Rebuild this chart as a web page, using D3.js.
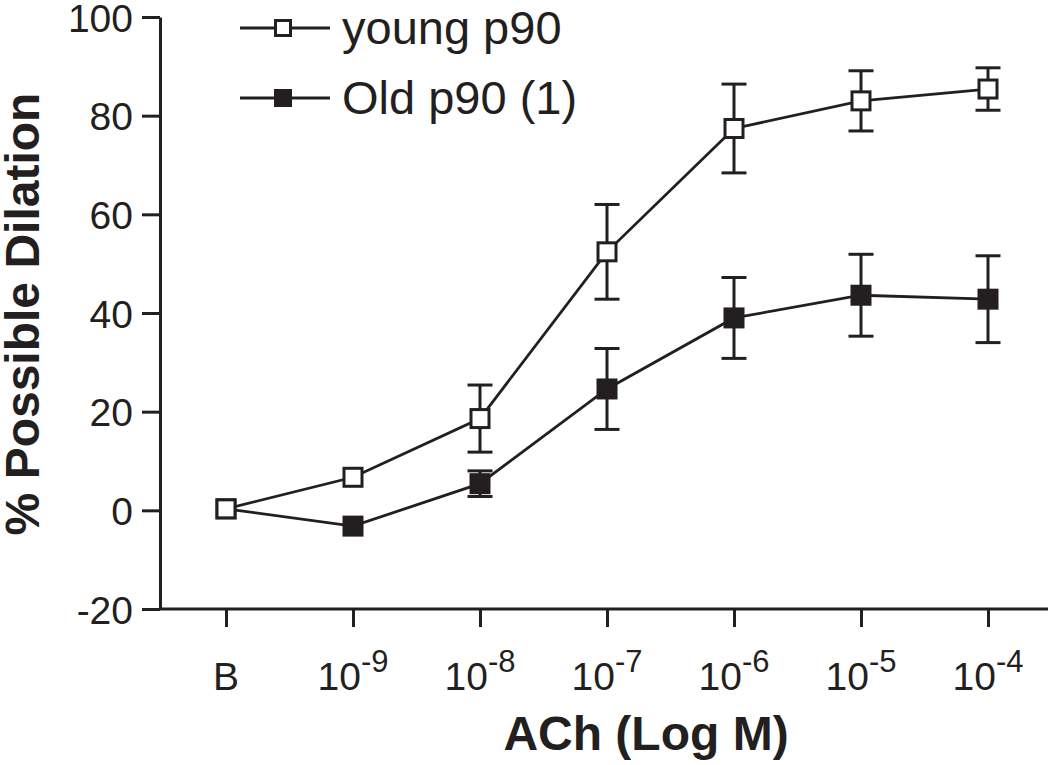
<!DOCTYPE html>
<html>
<head>
<meta charset="utf-8">
<script src="https://cdn.jsdelivr.net/npm/d3@7"></script>
<style>
  body { margin: 0; background: #fff; }
  svg text { font-family: "Liberation Sans", Arial, sans-serif; fill: #231f20; }
</style>
</head>
<body>
<div id="chart"></div>
<script>
// Concentrations (B = baseline, then exponent of 10)
const doses = ["B", "-9", "-8", "-7", "-6", "-5", "-4"];
// young p90: mean and SEM
const youngMean = [0.3, 6.7, 18.6, 52.4, 77.4, 83.0, 85.4];
const youngErr  = [0, 0, 6.8, 9.6, 9.0, 6.1, 4.3];
// Old p90 (1): mean and SEM
const oldMean = [0.3, -3.2, 5.4, 24.6, 39.0, 43.6, 42.8];
const oldErr  = [0, 0, 2.6, 8.2, 8.2, 8.3, 8.8];
const yTicks = [-20, 0, 20, 40, 60, 80, 100];

const ink = "#231f20";
const width = 1050, height = 765;

const svg = d3.select("#chart").append("svg")
    .attr("width", width)
    .attr("height", height);

const x = d3.scalePoint().domain(doses).range([226, 988]);
const y = d3.scaleLinear().domain([-20, 100]).range([609, 17]);

// --------------------------------------
// Y axis
const yAxis = svg.append("g")
    .attr("transform", "translate(160,0)")
    .call(d3.axisLeft(y).tickValues(yTicks).tickFormat(d => String(d))
        .tickSize(18).tickSizeOuter(0).tickPadding(9));
yAxis.select(".domain").attr("stroke", ink).attr("stroke-width", 3);
yAxis.selectAll(".tick line").attr("stroke", ink).attr("stroke-width", 3);
yAxis.selectAll(".tick text")
    .style("font-size", "39px")
    .attr("dy", "0.36em")
    .attr("fill", ink);

// X axis
const xAxis = svg.append("g")
    .attr("transform", "translate(0,609)")
    .call(d3.axisBottom(x).tickSize(18).tickSizeOuter(0).tickFormat(""));
xAxis.select(".domain").remove();
xAxis.append("line")
    .attr("x1", 160).attr("x2", 1048)
    .attr("stroke", ink).attr("stroke-width", 3);
xAxis.selectAll(".tick line").attr("stroke", ink).attr("stroke-width", 3);

// tick labels with superscript exponents
const xLabels = svg.append("g");
doses.forEach(d => {
    const t = xLabels.append("text")
        .attr("x", x(d))
        .attr("y", 690)
        .attr("text-anchor", "middle")
        .style("font-size", "39px");
    if (d === "B") {
        t.text("B");
    } else {
        t.append("tspan").text("10");
        t.append("tspan").attr("dy", -18).style("font-size", "31px").text(d);
    }
});

// axis titles
svg.append("text")
    .attr("x", 646).attr("y", 750)
    .attr("text-anchor", "middle")
    .style("font-size", "48px").style("font-weight", "bold")
    .text("ACh (Log M)");

svg.append("text")
    .attr("transform", "translate(39,314) rotate(-90)")
    .attr("text-anchor", "middle")
    .style("font-size", "48px").style("font-weight", "bold")
    .text("% Possible Dilation");

// --------------------------------------
// Series: old first so the young open square sits on top at baseline
const series = [
    { name: "Old p90 (1)", mean: oldMean, err: oldErr, fill: ink },
    { name: "young p90", mean: youngMean, err: youngErr, fill: "#fff" }
];
const line = d3.line().x((d, i) => x(doses[i])).y(d => y(d));
const cap = 12.5, ms = 21;

series.forEach(s => {
    const g = svg.append("g");
    g.append("path")
        .datum(s.mean)
        .attr("d", line)
        .attr("fill", "none")
        .attr("stroke", ink)
        .attr("stroke-width", 2.8);
    // error bars
    s.mean.forEach((m, i) => {
        if (!s.err[i]) return;
        const cx = x(doses[i]);
        const top = y(m + s.err[i]), bot = y(m - s.err[i]);
        g.append("line").attr("x1", cx).attr("x2", cx).attr("y1", top).attr("y2", bot)
            .attr("stroke", ink).attr("stroke-width", 3);
        [top, bot].forEach(yy => {
            g.append("line").attr("x1", cx - cap).attr("x2", cx + cap).attr("y1", yy).attr("y2", yy)
                .attr("stroke", ink).attr("stroke-width", 3);
        });
    });
    // markers
    g.selectAll("rect")
        .data(s.mean)
        .join("rect")
        .attr("x", (d, i) => x(doses[i]) - ms / 2 + 1.5)
        .attr("y", d => y(d) - ms / 2 + 1.5)
        .attr("width", ms - 3)
        .attr("height", ms - 3)
        .attr("fill", s.fill)
        .attr("stroke", ink)
        .attr("stroke-width", 3);
});

// --------------------------------------
// Legend
const legend = [
    { name: "young p90", fill: "#fff", y: 28 },
    { name: "Old p90 (1)", fill: ink, y: 98 }
];
legend.forEach(l => {
    svg.append("line").attr("x1", 240).attr("x2", 330).attr("y1", l.y).attr("y2", l.y)
        .attr("stroke", ink).attr("stroke-width", 2.8);
    svg.append("rect")
        .attr("x", 283 - 7.5).attr("y", l.y - 7.5)
        .attr("width", 15).attr("height", 15)
        .attr("fill", l.fill).attr("stroke", ink).attr("stroke-width", 3);
    svg.append("text")
        .attr("x", 342).attr("y", l.y + 16)
        .style("font-size", "47px")
        .text(l.name);
});
</script>
</body>
</html>
